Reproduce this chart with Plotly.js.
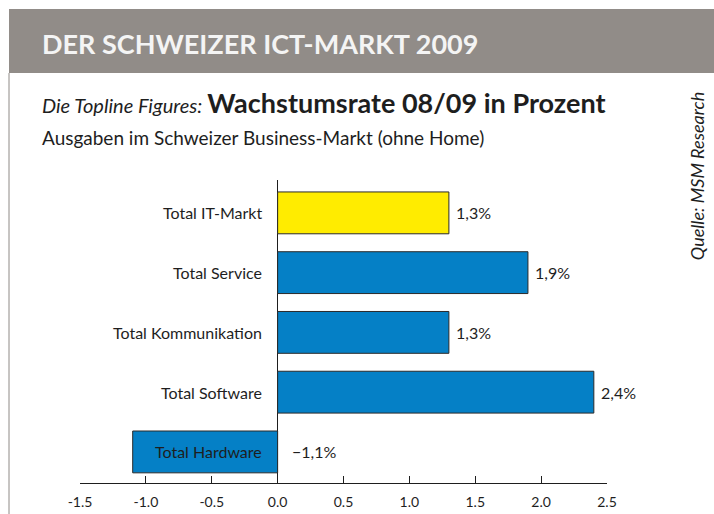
<!DOCTYPE html>
<html>
<head>
<meta charset="utf-8">
<script src="https://cdn.plot.ly/plotly-3.0.1.min.js"></script>
<style>
html,body{margin:0;padding:0;background:#fff;}
#chart{width:714px;height:514px;}
</style>
</head>
<body>
<div id="chart"></div>
<script>
const categories = ["Total Hardware", "Total Software", "Total Kommunikation", "Total Service", "Total IT-Markt"];
const growth = [-1.1, 2.4, 1.3, 1.9, 1.3];
const valueLabels = ["−1,1%", "2,4%", "1,3%", "1,9%", "1,3%"];
const tickValues = [-1.5, -1.0, -0.5, 0.0, 0.5, 1.0, 1.5, 2.0, 2.5];
const tickLabels = ["-1.5", "-1.0", "-0.5", "0.0", "0.5", "1.0", "1.5", "2.0", "2.5"];

const BLUE = "#0580c6", YELLOW = "#ffec00";
const barColors = categories.map(c => c === "Total IT-Markt" ? YELLOW : BLUE);
const FONT = "Lato, 'Open Sans', sans-serif";

const trace = {
  type: "bar",
  orientation: "h",
  y: categories,
  x: growth,
  width: 0.7,
  marker: {color: barColors, line: {color: "#2a2a2a", width: 1}},
  hoverinfo: "skip"
};

const annotations = [];
categories.forEach((c, i) => {
  annotations.push({
    xref: "x", yref: "y", x: 0, y: c, text: c,
    xanchor: "right", yanchor: "middle", xshift: -14, showarrow: false,
    font: {family: FONT, size: 16, color: "#1e1e1e"}
  });
  const v = growth[i];
  annotations.push({
    xref: "x", yref: "y", x: Math.max(v, 0), y: c, text: valueLabels[i],
    xanchor: "left", yanchor: "middle", xshift: v < 0 ? 12 : 5, showarrow: false,
    font: {family: FONT, size: 16, color: "#1e1e1e"}
  });
});

const layout = {
  width: 714, height: 514,
  margin: {l: 80, r: 107, t: 180, b: 31},
  paper_bgcolor: "#ffffff",
  plot_bgcolor: "#ffffff",
  showlegend: false,
  xaxis: {
    range: [-1.5, 2.5],
    tickvals: tickValues,
    ticktext: tickLabels,
    ticks: "inside",
    ticklen: 7,
    tickcolor: "#1e1e1e",
    ticklabelstandoff: 6,
    showline: true,
    linecolor: "#1e1e1e",
    linewidth: 1,
    showgrid: false,
    zeroline: true,
    zerolinecolor: "#1e1e1e",
    zerolinewidth: 1,
    tickfont: {family: FONT, size: 14, color: "#1e1e1e"},
    fixedrange: true
  },
  yaxis: {
    type: "category",
    categoryorder: "array",
    categoryarray: categories,
    range: [-0.52, 4.55],
    visible: false,
    fixedrange: true
  },
  shapes: [
    {type: "rect", xref: "paper", yref: "paper", x0: -0.1347, x1: 1.25, y0: 1.353, y1: 1.564,
     fillcolor: "#918c88", line: {width: 0}, layer: "below"},
    {type: "line", xref: "paper", yref: "paper", x0: -0.1347, x1: -0.1347, y0: -0.12, y1: 1.353,
     line: {color: "#8f8a86", width: 1}}
  ],
  annotations: annotations.concat([
    {xref: "paper", yref: "paper", x: -0.0759, y: 1.449, xanchor: "left", yanchor: "middle",
     text: "<b>DER SCHWEIZER ICT-MARKT 2009</b>", showarrow: false,
     font: {family: FONT, size: 27, color: "#f4f4f4"}},
    {xref: "paper", yref: "paper", x: -0.0759, y: 1.256, xanchor: "left", yanchor: "middle",
     text: "<i>Die Topline Figures:</i> <b><span style='font-size:27px'>Wachstumsrate 08/09 in Prozent</span></b>", showarrow: false,
     font: {family: FONT, size: 20, color: "#1e1e1e"}},
    {xref: "paper", yref: "paper", x: -0.0759, y: 1.139, xanchor: "left", yanchor: "middle",
     text: "Ausgaben im Schweizer Business-Markt (ohne Home)", showarrow: false,
     font: {family: FONT, size: 19, color: "#1e1e1e"}},
    {xref: "paper", yref: "paper", x: 1.171, y: 1.013, xanchor: "center", yanchor: "middle",
     text: "<i>Quelle: MSM Research</i>", textangle: -90, showarrow: false,
     font: {family: FONT, size: 18, color: "#1e1e1e"}}
  ])
};

Plotly.newPlot("chart", [trace], layout, {displayModeBar: false, staticPlot: true});
</script>
</body>
</html>
